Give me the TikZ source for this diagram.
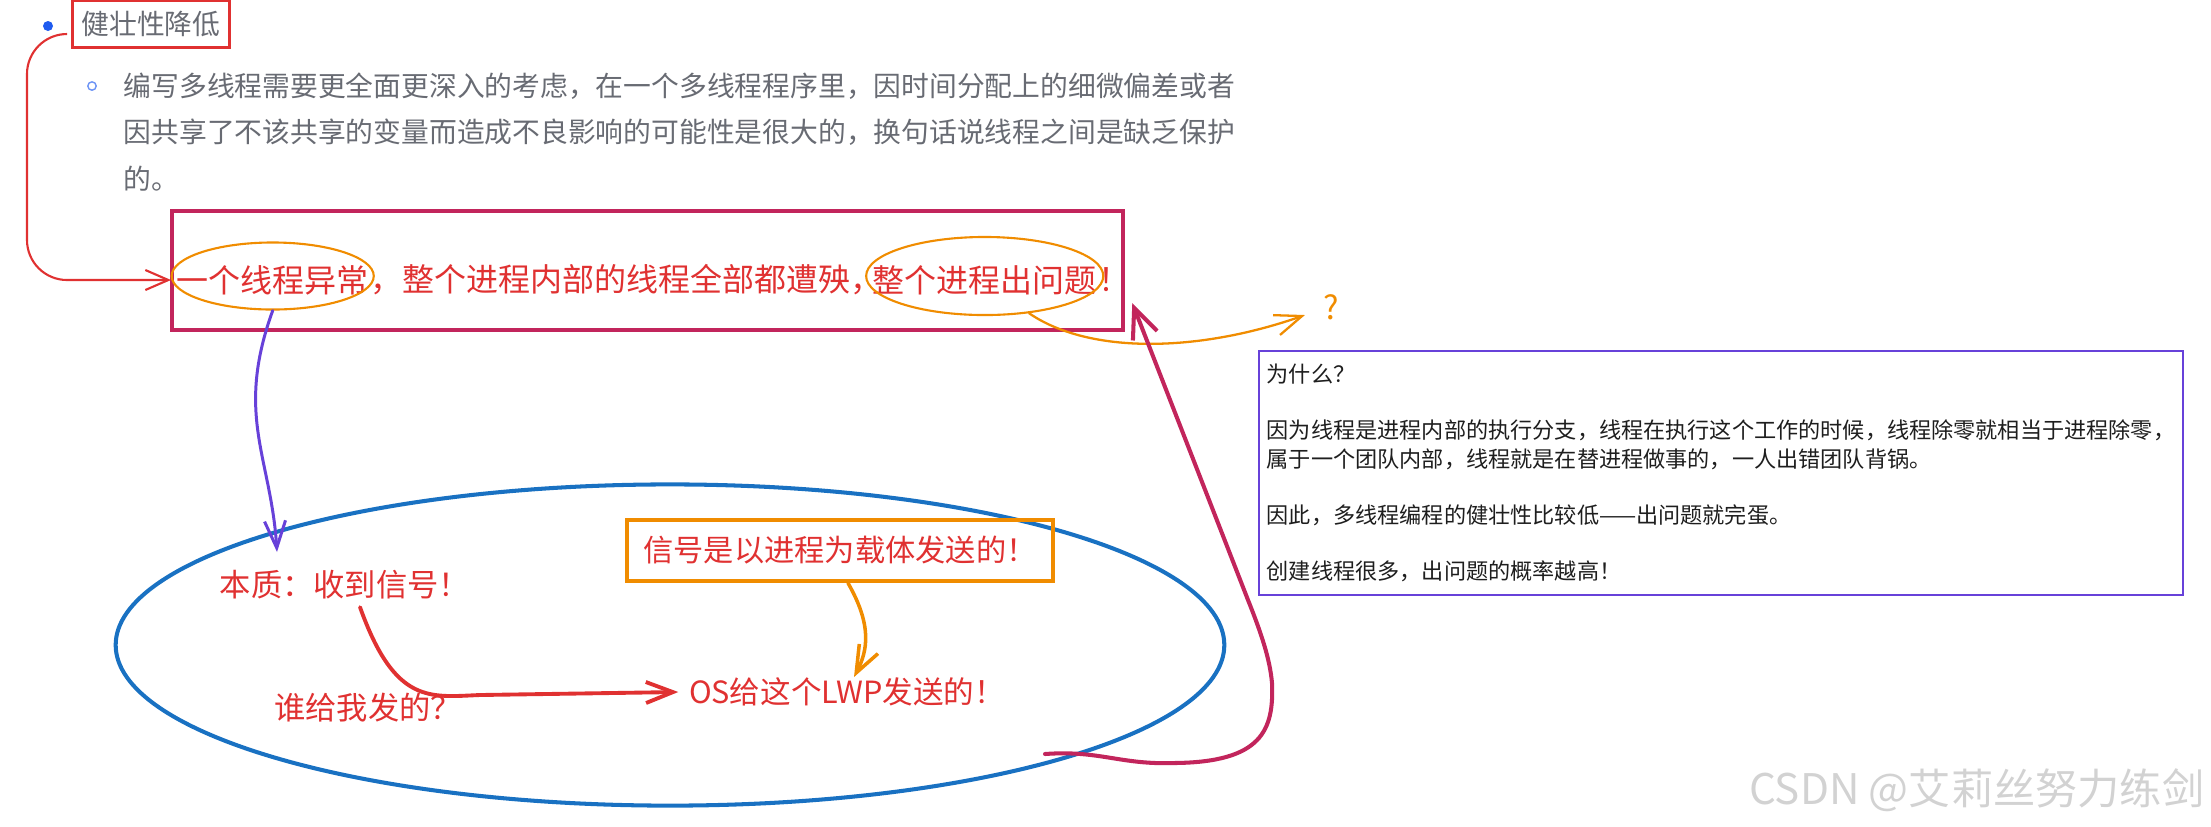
\documentclass[tikz,border=0pt]{standalone}
\usepackage{fontspec}
\setmainfont{Noto Sans CJK SC}
\usepackage{xcolor}
\definecolor{cRed}{HTML}{E03131}
\definecolor{cCrimson}{HTML}{C2255C}
\definecolor{cOrange}{HTML}{F08C00}
\definecolor{cBlue}{HTML}{1971C2}
\definecolor{cViolet}{HTML}{6741D9}
\definecolor{cInk}{HTML}{1E1E1E}
\definecolor{cGray}{HTML}{686B73}
\definecolor{cDot}{HTML}{1F5BEF}
\definecolor{cMark}{HTML}{D2D2D2}
\usetikzlibrary{positioning,arrows.meta,shapes.geometric}
\tikzset{
  node-topic/.style={draw=cRed,line width=0.6pt,minimum width=15.7mm,
    minimum height=4.7mm,inner sep=0pt,text=cGray,font=\fontsize{7.9}{9.5}\selectfont},
  node-frame/.style={draw=cCrimson,line width=1.15pt,inner sep=0pt},
  node-hand/.style={inner sep=0pt,text=cRed,font=\fontsize{9.1}{11}\selectfont},
  node-oval/.style={draw=cOrange,line width=0.6pt,ellipse,inner sep=0pt},
  node-scope/.style={draw=cBlue,line width=1.15pt,ellipse,inner sep=0pt},
  node-note/.style={draw=cOrange,line width=1.15pt,inner sep=0pt},
  node-why/.style={draw=cViolet,line width=0.6pt,align=left,inner sep=0pt,
    text=cInk,font=\fontsize{6.3}{8}\selectfont},
  % 手绘风箭头：两条短线的开口箭头
  arrow-link/.style={-{Straight Barb[length=2.3mm,width=2mm]},draw=cRed,line width=0.6pt},
  arrow-hand/.style={-{Straight Barb[length=2.7mm,width=2.1mm]},line width=0.9pt,line cap=round},
}

\begin{document}
\begin{tikzpicture}[x=0.01cm,y=-0.01cm]
  \useasboundingbox (0,0) rectangle (2211,826);

  \fill[cDot] (48,26) circle (0.5mm);
  \draw[cDot!65!white,line width=0.4pt] (92,86) circle (0.42mm);
  \node[node-topic] (topic) at (151,24) {健壮性降低};
  \node[anchor=west,align=left,inner sep=0pt,text=cGray,font=\fontsize{7.9}{13.1}\selectfont] (body) at (123,132)
    {编写多线程需要更全面更深入的考虑，在一个多线程程序里，因时间分配上的细微偏差或者\\
     因共享了不该共享的变量而造成不良影响的可能性是很大的，换句话说线程之间是缺乏保护\\
     的。};

  \node[node-frame,minimum width=95.1mm,minimum height=11.9mm] (frame) at (647.5,270.5) {};
  \node[node-hand,anchor=west] (t1) at (176,280) {一个线程异常};
  \node[node-hand,right=0pt of t1] (t2) {，整个进程内部的线程全部都遭殃，};
  \node[node-hand,anchor=west] (t3) at (872,280) {整个进程出问题};
  \node[node-hand,right=0pt of t3] (t4) {！};
  \node[node-oval,minimum width=20.2mm,minimum height=6.7mm] (o1) at ([yshift=0.4mm]t1) {};
  \node[node-oval,minimum width=23.7mm,minimum height=7.8mm] (o2) at ([yshift=0.4mm]t3) {};
  \node[inner sep=0pt,text=cOrange,font=\fontsize{9.3}{11}\selectfont] (ask) at (1331,307) {?};

  \node[node-why,minimum width=92.4mm,minimum height=24.4mm] (why) at (1721,473)
    {为什么？\\[8pt]
     因为线程是进程内部的执行分支，线程在执行这个工作的时候，线程除零就相当于进程除零，\\
     属于一个团队内部，线程就是在替进程做事的，一人出错团队背锅。\\[8pt]
     因此，多线程编程的健壮性比较低——出问题就完蛋。\\[8pt]
     创建线程很多，出问题的概率越高！};

  \node[node-scope,minimum width=110.8mm,minimum height=32.1mm] (sig) at (670,645) {};
  \node[node-hand,font=\fontsize{8.9}{10}\selectfont] (essence) at (345,585) {本质：收到信号！};
  \node[node-hand,font=\fontsize{8.9}{10}\selectfont] (who) at (368,708) {谁给我发的？};
  \node[node-note,minimum width=42.5mm,minimum height=6.1mm,text=cRed,
    font=\fontsize{8.6}{10}\selectfont] (carrier) at (840,550.5) {信号是以进程为载体发送的！};
  \node[node-hand,font=\fontsize{8.7}{10}\selectfont] (os) at (847,692) {OS给这个LWP发送的！};
  \coordinate (p-tip) at (277,552);
  \coordinate (c-start) at (1045,754);

  \node[anchor=east,inner sep=0pt,text=cMark,font=\fontsize{12}{14}\selectfont] (mark) at (2205,790)
    {CSDN @艾莉丝努力练剑};

  \draw[arrow-link,rounded corners=4mm] ([shift={(-0.5mm,-1mm)}]topic.west) -| (27,280) -- ([xshift=-0.5mm]t1.west);
  \draw[arrow-hand,cViolet,line width=0.85pt] (o1.south) .. controls +(-38,105) and +(-6,-95) .. (p-tip);
  \draw[arrow-hand,cOrange,line width=0.65pt] (o2.-40) .. controls (1090,355) and (1200,352)
    .. ([shift={(-2.6mm,-0.8mm)}]ask.center);
  \draw[arrow-hand,cRed,line width=1.1pt] ([shift={(1.5mm,-0.7mm)}]essence.south)
    .. controls (395,705) and (430,697) .. (480,695) -- ([xshift=-1mm]os.west);
  \draw[arrow-hand,cOrange,line width=1pt] ([xshift=0.8mm]carrier.south)
    .. controls (872,625) and (868,650) .. ([xshift=0.7mm]os.north);
  \draw[arrow-hand,cCrimson,line width=1.15pt,-{Straight Barb[length=3mm,width=2.6mm]}] (c-start)
    .. controls (1100,750) and (1120,765) .. (1175,763)
    .. controls (1262,762) and (1274,730) .. (1272,683)
    .. controls (1270,660) and (1262,635) .. (1248,600)
    -- ([shift={(0.7mm,2.9mm)}]frame.south east);
\end{tikzpicture}
\end{document}
